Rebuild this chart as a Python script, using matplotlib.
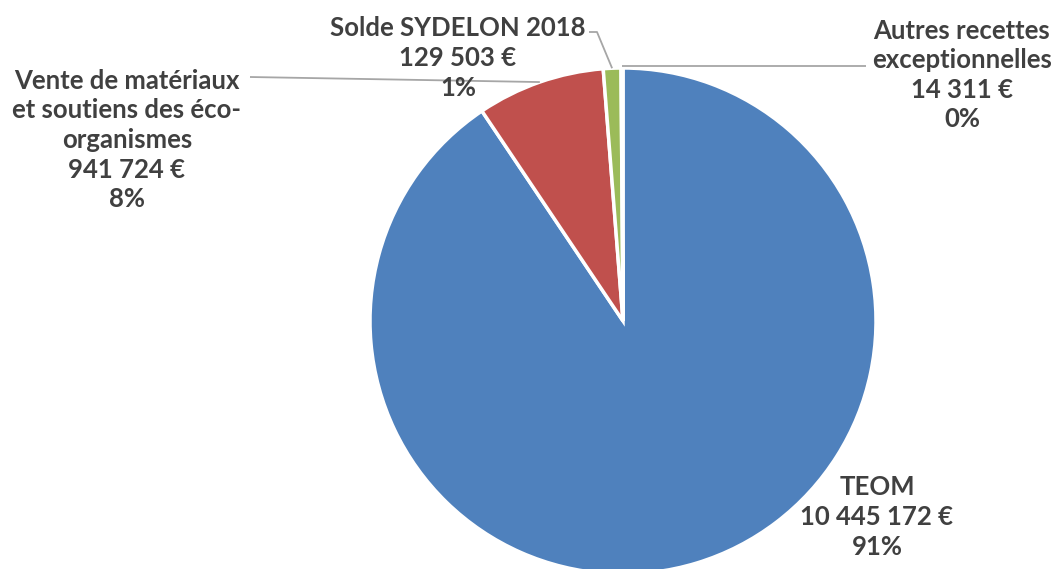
import numpy as np
import matplotlib
matplotlib.use("Agg")
import matplotlib.pyplot as plt

# recettes (€), clockwise from 12 o'clock
labels = ["TEOM", "Vente de matériaux\net soutiens des éco-\norganismes", "Solde SYDELON 2018", "Autres recettes\nexceptionnelles"]
values = [10445172, 941724, 129503, 14311]
colors = ["#4F81BD", "#C0504D", "#9BBB59", "#8064A2"]

plt.rcParams['font.family'] = ['Lato', 'DejaVu Sans']
txt_color = "#404040"

W, H = 1056, 569
cx, cy, R = 623, 321, 253   # pie centre / radius in pixels

fig = plt.figure(figsize=(W / 100, H / 100), dpi=100)
ax = fig.add_axes([0, 0, 1, 1])


def px(x, y):
    # pixel position -> data coords
    return (x - cx) / R, (cy - y) / R


wedges, _ = ax.pie(values, colors=colors, startangle=90, counterclock=False,
                   radius=1, center=(0, 0), frame=True,
                   wedgeprops=dict(edgecolor="white", linewidth=2.5))
ax.set_xlim(-cx / R, (W - cx) / R)
ax.set_ylim(-(H - cy) / R, cy / R)
ax.set_aspect("auto")
ax.axis("off")

total = sum(values)


def fmt(v):
    return "{:,}".format(v).replace(",", " ") + " €"


def edge(w, r=1.0):
    a = np.deg2rad((w.theta1 + w.theta2) / 2)
    return r * np.cos(a), r * np.sin(a)


# label centres (pixels)
pos = [(877, 517), (127, 140), (458, 58), (962, 75)]
for lab, v, (x, y) in zip(labels, values, pos):
    s = "{}\n{}\n{:.0f}%".format(lab, fmt(v), round(100 * v / total))
    ax.text(*px(x, y), s, ha="center", va="center", fontsize=18.5,
            fontweight="bold", color=txt_color, linespacing=1.28)

line_kw = dict(color="#A6A6A6", lw=1.3, solid_capstyle="butt")
# Vente leader
ex, ey = edge(wedges[1], 1.0)
x0, y0 = px(250, 77)
ax.plot([x0, ex], [y0, ey], **line_kw)
# Solde leader
ex, ey = edge(wedges[2], 1.0)
x0, y0 = px(589, 32)
x1, y1 = px(597, 32)
ax.plot([x0, x1, ex], [y0, y1, ey], **line_kw)
# Autres leader
ex, ey = edge(wedges[3], 1.0)
x0, y0 = px(866, 66)
ax.plot([x0, ex], [y0, y0], **line_kw)

fig.savefig("out.png", dpi=100, facecolor="white")
